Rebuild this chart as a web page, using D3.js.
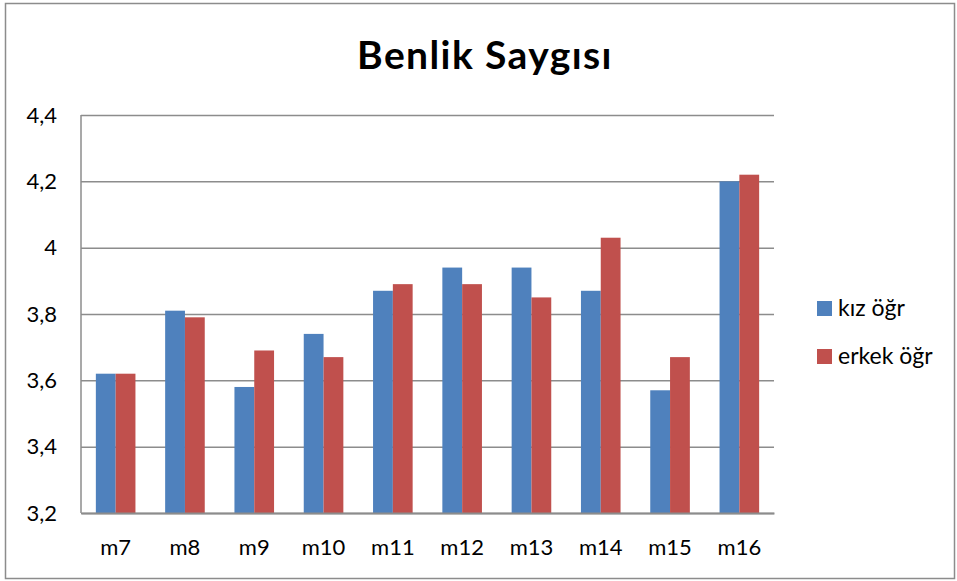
<!DOCTYPE html>
<html>
<head>
<meta charset="utf-8">
<script src="https://cdn.jsdelivr.net/npm/d3@7"></script>
<style>
  html, body { margin: 0; padding: 0; background: #fff; }
  svg { display: block; font-family: Lato, "Open Sans", sans-serif; }
</style>
</head>
<body>
<svg id="chart" width="957" height="581"></svg>
<script>
// Survey items and mean self-esteem scores by group
const categories = ["m7", "m8", "m9", "m10", "m11", "m12", "m13", "m14", "m15", "m16"];
const seriesNames = ["kız öğr", "erkek öğr"];
const kizValues = [3.62, 3.81, 3.58, 3.74, 3.87, 3.94, 3.94, 3.87, 3.57, 4.20];
const erkekValues = [3.62, 3.79, 3.69, 3.67, 3.89, 3.89, 3.85, 4.03, 3.67, 4.22];
const yTicks = [3.2, 3.4, 3.6, 3.8, 4.0, 4.2, 4.4];
const titleText = "Benlik Saygısı";

const colors = ["#4F81BD", "#C0504D"];
const series = [kizValues, erkekValues];

const svg = d3.select("#chart");
const W = 957, H = 581;
const plot = { left: 81, right: 774, top: 115, bottom: 513 };

// chart frame
svg.append("rect")
  .attr("x", 5.5).attr("y", 3.5)
  .attr("width", W - 8).attr("height", H - 6)
  .attr("fill", "#fff").attr("stroke", "#8c8c8c").attr("stroke-width", 1.5);

const x = d3.scaleBand().domain(categories).range([plot.left, plot.right]).paddingInner(0).paddingOuter(0);
const y = d3.scaleLinear().domain([3.2, 4.4]).range([plot.bottom, plot.top]);
const fmt = v => d3.format(".1f")(v).replace(".", ",").replace(/,0$/, "");

// gridlines + y labels
const yAxis = d3.axisLeft(y).tickValues(yTicks).tickSize(-(plot.right - plot.left)).tickPadding(24).tickFormat(fmt);
const gy = svg.append("g").attr("transform", `translate(${plot.left},0)`).call(yAxis);
gy.select(".domain").remove();
gy.selectAll(".tick line").attr("stroke", "#8c8c8c").attr("stroke-width", 1.5);
gy.selectAll(".tick text").attr("font-size", 22).attr("fill", "#000").attr("font-family", "Lato, sans-serif");

// bars: each group uses a gap width of 1.5 bar widths
const barW = x.bandwidth() / 3.5;
const gap = barW * 0.75;
const gBars = svg.append("g");
series.forEach((vals, si) => {
  gBars.selectAll(null).data(categories).enter().append("rect")
    .attr("x", (d) => x(d) + gap + si * barW)
    .attr("y", (d, i) => y(vals[i]))
    .attr("width", barW)
    .attr("height", (d, i) => y(3.2) - y(vals[i]))
    .attr("fill", colors[si]);
});

// axes lines
svg.append("line").attr("x1", plot.left).attr("x2", plot.left).attr("y1", plot.top).attr("y2", plot.bottom)
  .attr("stroke", "#8c8c8c").attr("stroke-width", 1.5);
const xAxis = d3.axisBottom(x).tickSize(0).tickPadding(26);
const gx = svg.append("g").attr("transform", `translate(0,${plot.bottom})`).call(xAxis);
gx.select(".domain").attr("stroke", "#8c8c8c").attr("stroke-width", 2);
gx.selectAll(".tick text").attr("font-size", 22).attr("fill", "#000").attr("font-family", "Lato, sans-serif");

// title
svg.append("text").attr("x", 485).attr("y", 69)
  .attr("text-anchor", "middle").attr("font-size", 39).attr("font-weight", "bold")
  .attr("letter-spacing", 1.4)
  .attr("fill", "#000").text(titleText);

// legend
const leg = svg.append("g");
seriesNames.forEach((name, i) => {
  const ly = 301 + i * 48;
  leg.append("rect").attr("x", 817).attr("y", ly).attr("width", 15).attr("height", 15).attr("fill", colors[i]);
  leg.append("text").attr("x", 838).attr("y", ly + 15).attr("font-size", 23).attr("fill", "#000").text(name);
});
</script>
</body>
</html>
